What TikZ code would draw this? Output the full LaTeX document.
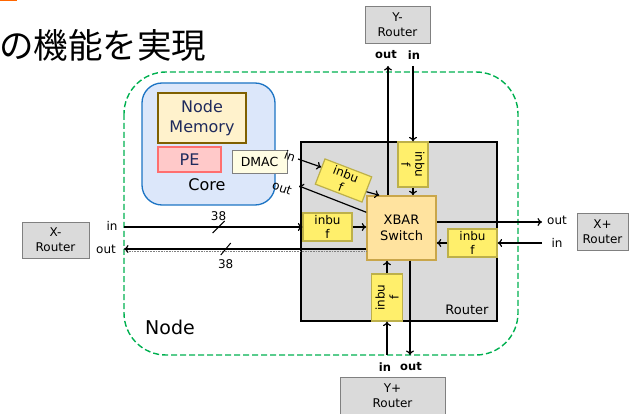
\documentclass[tikz,border=0pt]{standalone}
\usepackage{fontspec}
\setmainfont{DejaVu Sans}
\newfontfamily\jpfont{Noto Sans CJK JP}
\usetikzlibrary{arrows.meta}

\definecolor{nodegreen}{HTML}{00B050}
\definecolor{rtgray}{HTML}{DADADA}
\definecolor{ibfill}{HTML}{FFEF6B}
\definecolor{ibline}{HTML}{BDB04A}
\definecolor{xbfill}{HTML}{FFE39F}
\definecolor{xbline}{HTML}{C9A64A}
\definecolor{corefill}{HTML}{DCE7FA}
\definecolor{coreline}{HTML}{1C74C4}
\definecolor{memfill}{HTML}{FFF2CC}
\definecolor{memline}{HTML}{7F6000}
\definecolor{pefill}{HTML}{FFC9C9}
\definecolor{peline}{HTML}{FF6F6F}
\definecolor{dmfill}{HTML}{FFFDE3}
\definecolor{navy}{HTML}{1F2A5C}

\tikzset{
  rtr/.style={draw=gray, fill=rtgray, line width=0.8pt, align=center,
    font=\fontsize{12}{15}\selectfont, inner sep=0pt},
  ibuf/.style={draw=ibline, fill=ibfill, line width=1.2pt, align=center,
    font=\fontsize{12}{14}\selectfont, minimum width=49pt, minimum height=28pt, inner sep=0pt},
  port/.style={font=\fontsize{12}{13}\selectfont, inner sep=0pt},
  bport/.style={port, font=\bfseries\fontsize{11.5}{13}\selectfont},
  wire/.style={->, line width=1.2pt},
}

\begin{document}
\begin{tikzpicture}[x=1pt, y=-1pt, >={To[length=4.5pt,width=8pt]}]
\useasboundingbox (0,0) rectangle (632,414);
\fill[orange!80!red] (0,0) rectangle (17,1.5);
\node[anchor=west, inner sep=0pt, font=\jpfont\fontsize{34.5}{34.5}\selectfont] (title) at (-1,45) {の機能を実現};

% node boundary
\draw[nodegreen, dash pattern=on 6pt off 3pt, line width=1.4pt, rounded corners=42pt] (124,72) rectangle (518,355);
\node[font=\fontsize{19}{19}\selectfont] (nodelbl) at (170,327) {Node};

% core
\draw[coreline, fill=corefill, line width=1.3pt, rounded corners=20pt] (142,83) rectangle (275,205);
\node[draw=memline, fill=memfill, line width=1.5pt, minimum width=88pt, minimum height=50pt,
  align=center, text=navy, font=\fontsize{16}{20}\selectfont] (mem) at (202,118) {Node\\Memory};
\node[draw=peline, fill=pefill, line width=1.5pt, minimum width=63pt, minimum height=25pt,
  text=navy, font=\fontsize{16}{16}\selectfont] (pe) at (189.5,159.5) {PE};
\node[font=\fontsize{16}{16}\selectfont] (core) at (207,185) {Core};
\node[draw=gray, fill=dmfill, line width=0.8pt, minimum width=55pt, minimum height=23pt,
  font=\fontsize{12.5}{12.5}\selectfont] (dmac) at (259.5,161.5) {DMAC};

% router
\draw[fill=rtgray, line width=1.5pt] (301,142) rectangle (497,321);
\node[font=\fontsize{13}{13}\selectfont] (rtlbl) at (467,310) {Router};
\node[draw=xbline, fill=xbfill, line width=1.5pt, minimum width=69pt, minimum height=64pt,
  align=center, font=\fontsize{13}{15.5}\selectfont] (xbar) at (401.5,228) {XBAR\\Switch};
\node[ibuf] (ibl) at (327.5,227) {inbu\\f};
\node[ibuf] (ibr) at (472.5,243) {inbu\\f};
\node[ibuf, rotate=-90, minimum width=45pt, minimum height=30pt] (ibt) at (413,164.5) {inbu\\f};
\node[ibuf, rotate=90, minimum width=47pt, minimum height=31pt] (ibb) at (387,297.5) {inbu\\f};
\node[ibuf, rotate=-21, minimum width=50pt, minimum height=27pt] (ibd) at (343.5,180.5) {inbu\\f};

% neighbours
\node[rtr, minimum width=67pt, minimum height=36pt] (xm) at (55.5,240) {X-\\Router};
\node[rtr, minimum width=51pt, minimum height=37pt] (xp) at (602.5,231.5) {X+\\Router};
\node[rtr, minimum width=65pt, minimum height=37pt] (ym) at (397.5,24.5) {Y-\\Router};
\node[rtr, minimum width=105pt, minimum height=38pt] (yp) at (392.5,396) {Y+\\Router};

\coordinate (xm-in) at (124,227);
\coordinate (xm-out) at (124,249);
\coordinate (xp-out) at (542,222);
\coordinate (xp-in) at (542,243);
\coordinate (ym-out) at (388,66);
\coordinate (ym-in) at (413,66);
\coordinate (yp-in) at (387,355);
\coordinate (yp-out) at (410,355);
\coordinate (dm-in) at (298,159);
\coordinate (dm-out) at (299,186);

\node[port] (xm-inl) at (112,226) {in};
\node[port] (xm-outl) at (106,249) {out};
\node[port] (xp-outl) at (557,220) {out};
\node[port] (xp-inl) at (557,243) {in};
\node[bport] (ym-outl) at (386,55) {out};
\node[bport] (ym-inl) at (414,55) {in};
\node[bport] (yp-inl) at (385,367) {in};
\node[bport] (yp-outl) at (411,367) {out};
\node[port, rotate=-20] (dm-inl) at (290,156) {in};
\node[port, rotate=-20] (dm-outl) at (282,188) {out};

% x links
\draw[wire] (xm-in) -- (ibl.west) coordinate[pos=0.53] (bw1);
\draw[wire] (ibl.east) -- (ibl.east -| xbar.west);
\draw[gray, densely dotted, line width=0.6pt] ([yshift=-23pt]xbar.west) -- ([yshift=-2pt]xm-out);
\draw[wire] ([yshift=-21pt]xbar.west) -- (xm-out) coordinate[pos=0.58] (bw2);
\draw[line width=1pt] ([shift={(-6pt,-6pt)}]bw1) -- ([shift={(6pt,6pt)}]bw1);
\draw[line width=1pt] ([shift={(-5pt,-6pt)}]bw2) -- ([shift={(5pt,6pt)}]bw2);
\node[port] (bw1lbl) at ([yshift=11pt]bw1) {38};
\node[port] (bw2lbl) at ([yshift=-15pt]bw2) {38};
\draw[wire] ([yshift=6pt]xbar.east) -- (xp-out);
\draw[wire] (xp-in) -- (ibr.east);
\draw[wire] (ibr.west) -- (ibr.west -| xbar.east);

% y links
\draw[wire] (xbar.north -| ym-out) -- (ym-out);
\draw[wire] (ym-in) -- (ibt.west);
\draw[wire] (ibt.east) -- (ibt.east |- xbar.north);
\draw[wire] (yp-in) -- (ibb.west);
\draw[wire] (ibb.east) -- (ibb.east |- xbar.south);
\draw[wire] (xbar.south -| yp-out) -- (yp-out);

% dmac links
\draw[wire] (dm-in) -- (ibd.170);
\draw[wire] (ibd.-5) -- ([xshift=13pt]xbar.north west);
\draw[wire] ([yshift=-17pt]xbar.north west) -- (dm-out);
\end{tikzpicture}
\end{document}
